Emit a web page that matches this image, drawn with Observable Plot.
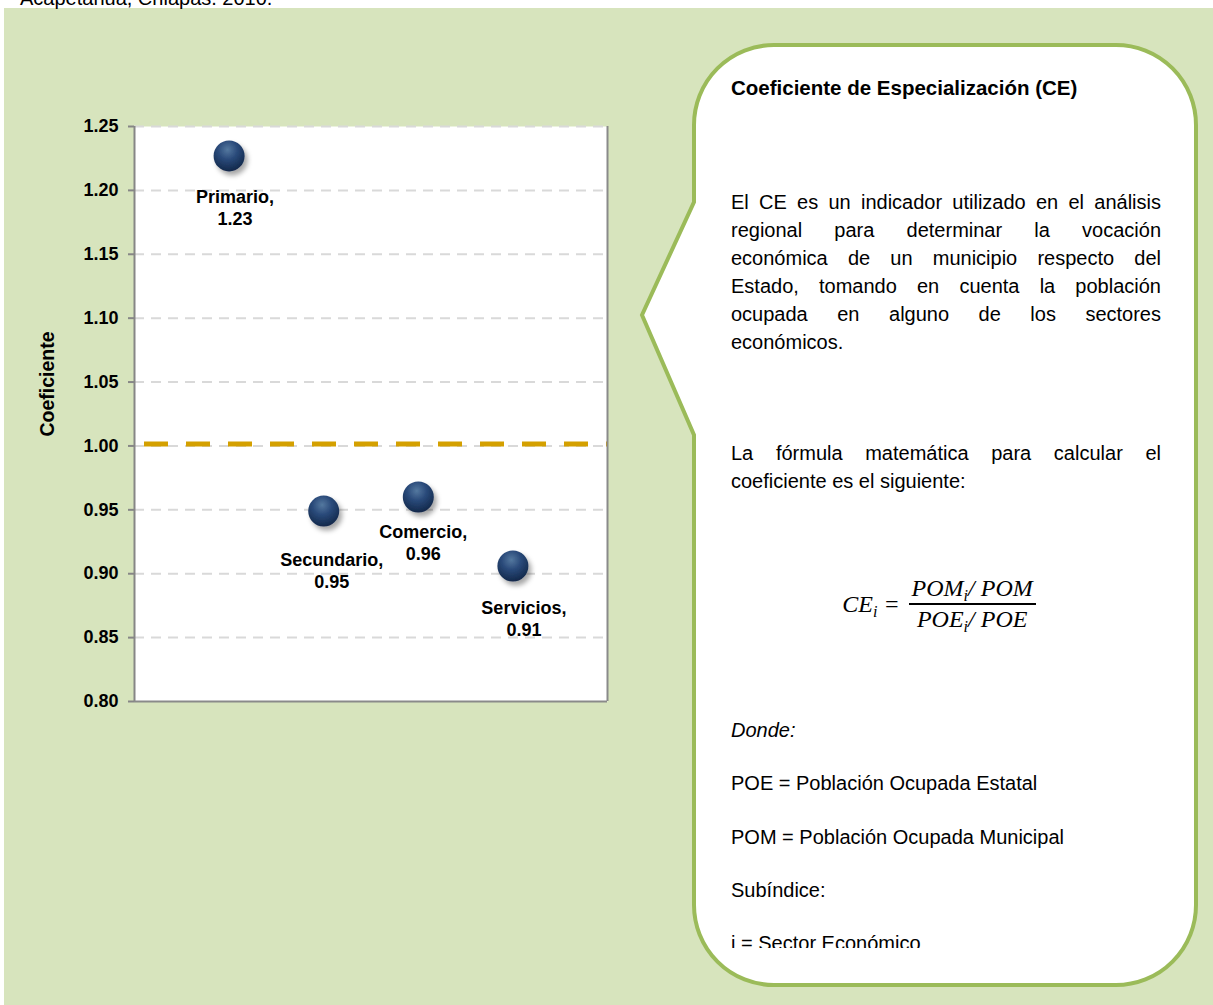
<!DOCTYPE html>
<html>
<head>
<meta charset="utf-8">
<script src="https://cdn.jsdelivr.net/npm/d3@7"></script>
<script src="https://cdn.jsdelivr.net/npm/@observablehq/plot@0.6"></script>
<style>
  html, body { margin: 0; padding: 0; background: #fff; }
  #page { position: relative; width: 1213px; height: 1005px; overflow: hidden; font-family: "Liberation Sans", Arial, sans-serif; color: #000; }
  #bg { position: absolute; left: 4px; top: 8px; right: 0; bottom: 0; background: #d7e4bd; }
  #heading { position: absolute; left: 20px; top: -12px; font-size: 20px; line-height: 20px; white-space: nowrap; }
  #chart { position: absolute; left: 0; top: 0; }
  #callout { position: absolute; left: 0; top: 0; }
  #textclip { position: absolute; left: 0; top: 0; width: 1213px; height: 948px; overflow: hidden; }
  .blk { position: absolute; left: 731px; width: 430px; font-size: 20px; line-height: 28px; }
  .jl { text-align: justify; text-align-last: justify; white-space: nowrap; }
  .jl.last { text-align-last: left; }
  .title { font-weight: bold; font-size: 20.5px; }
  .formula { position: absolute; left: 819px; top: 575px; width: 240px; display: flex; align-items: center; justify-content: center; font-family: "Liberation Serif", "DejaVu Serif", serif; font-style: italic; font-size: 24px; }
  .formula sub { font-size: 16px; vertical-align: -5px; line-height: 0; }
  .frac { display: inline-flex; flex-direction: column; align-items: center; margin-left: 9px; }
  .frac .num { padding: 0 3px 1px 3px; border-bottom: 2px solid #000; line-height: 27px; }
  .frac .den { padding: 1px 3px 0 3px; line-height: 27px; }
</style>
</head>
<body>
<div id="page">
  <div id="bg"></div>
  <div id="heading">Acapetahua, Chiapas. 2010.</div>
  <div id="chart"></div>
  <svg id="callout" width="1213" height="1005"></svg>
  <div id="textclip">
    <div class="blk title" style="top:74px">Coeficiente de Especialización (CE)</div>
    <div class="blk" style="top:188px">
      <div class="jl">El CE es un indicador utilizado en el análisis</div>
      <div class="jl">regional para determinar la vocación</div>
      <div class="jl">económica de un municipio respecto del</div>
      <div class="jl">Estado, tomando en cuenta la población</div>
      <div class="jl">ocupada en alguno de los sectores</div>
      <div class="jl last">económicos.</div>
    </div>
    <div class="blk" style="top:439px">
      <div class="jl">La fórmula matemática para calcular el</div>
      <div class="jl last">coeficiente es el siguiente:</div>
    </div>
    <div class="formula">
      <span>CE<sub>i</sub>&nbsp;=</span>
      <span class="frac"><span class="num">POM<sub>i</sub>/ POM</span><span class="den">POE<sub>i</sub>/ POE</span></span>
    </div>
    <div class="blk" style="top:716px; font-style:italic">Donde:</div>
    <div class="blk" style="top:769px">POE = Población Ocupada Estatal</div>
    <div class="blk" style="top:823px">POM = Población Ocupada Municipal</div>
    <div class="blk" style="top:876px">Subíndice:</div>
    <div class="blk" style="top:929px">i = Sector Económico</div>
  </div>
</div>
<script>
// ---- Data ----
const sectors = ["Primario", "Secundario", "Comercio", "Servicios"];
const coefficients = [1.227, 0.949, 0.96, 0.906];
const yTicks = [0.80, 0.85, 0.90, 0.95, 1.00, 1.05, 1.10, 1.15, 1.20, 1.25];
const referenceLine = [1.0];
const axisTitle = ["Coeficiente"];

// ---- Layout (label offsets in px) ----
const labelOffsets = {
  Primario: [6, 32],
  Secundario: [8, 40],
  Comercio: [5, 26],
  Servicios: [11, 33]
};

const data = sectors.map((s, i) => ({sector: s, pos: i + 1, value: coefficients[i]}));

const labelMarks = data.map(d => Plot.text([d], {
  x: "pos", y: "value",
  text: v => `${v.sector},\n${v.value.toFixed(2)}`,
  lineAnchor: "top", lineHeight: 1.2,
  dx: labelOffsets[d.sector][0], dy: labelOffsets[d.sector][1],
  fontSize: 18, fontWeight: "bold", fill: "#000"
}));

const chart = Plot.plot({
  width: 640, height: 760,
  marginLeft: 134, marginTop: 126, marginRight: 33, marginBottom: 59,
  style: {background: "transparent", fontFamily: "'Liberation Sans', Arial, sans-serif", fontSize: "18px", fontWeight: "bold", color: "#000", overflow: "visible"},
  x: {domain: [0, 5], axis: null},
  y: {domain: [0.8, 1.25], axis: null},
  marks: [
    Plot.frame({fill: "white", stroke: "none"}),
    Plot.ruleY(yTicks.filter(t => t > 0.8), {stroke: "#d9d9d9", strokeWidth: 2, strokeDasharray: "10,7"}),
    Plot.ruleY(referenceLine, {stroke: "#D4A000", strokeWidth: 5, strokeDasharray: "24,18", strokeDashoffset: 32, dy: -2}),
    Plot.ruleX([0], {stroke: "#868686", strokeWidth: 2}),
    Plot.ruleX([5], {stroke: "#8a8a8a", strokeWidth: 2}),
    Plot.ruleY([0.8], {stroke: "#8a8a8a", strokeWidth: 2}),
    Plot.axisY({ticks: yTicks, tickSize: 6, tickPadding: 10, stroke: "#868686", strokeWidth: 2, fill: "#000",
      tickFormat: d => d.toFixed(2), fontSize: 18, fontWeight: "bold", label: null}),
    Plot.text(axisTitle, {frameAnchor: "left", textAnchor: "middle", rotate: -90, dx: -87, dy: -30, fontSize: 19.5, fontWeight: "bold", fill: "#000"}),
    Plot.dot(data, {x: "pos", y: "value", r: 15.5, fill: "#1F3864", stroke: "none"}),
    ...labelMarks
  ]
});
document.getElementById("chart").appendChild(chart);

// Ball gradient + shadow
const svg = d3.select(chart);
const defs = svg.insert("defs", ":first-child");
const g = defs.append("radialGradient").attr("id", "ballGrad").attr("cx", "45%").attr("cy", "30%").attr("r", "70%");
g.append("stop").attr("offset", "0%").attr("stop-color", "#54789f");
g.append("stop").attr("offset", "45%").attr("stop-color", "#2a4a7a");
g.append("stop").attr("offset", "100%").attr("stop-color", "#12284a");
const f = defs.append("filter").attr("id", "ballShadow").attr("x", "-50%").attr("y", "-50%").attr("width", "200%").attr("height", "200%");
f.append("feDropShadow").attr("dx", 3).attr("dy", 4).attr("stdDeviation", 2.5).attr("flood-color", "#000").attr("flood-opacity", 0.35);
svg.selectAll('g[aria-label="dot"] circle').attr("fill", "url(#ballGrad)").attr("filter", "url(#ballShadow)");

// Callout shape (text box border)
const L = 694, T = 45, R = 1196, B = 985, rad = 80;
const path = [
  `M${L + rad},${T}`, `L${R - rad},${T}`, `A${rad},${rad} 0 0 1 ${R},${T + rad}`,
  `L${R},${B - rad}`, `A${rad},${rad} 0 0 1 ${R - rad},${B}`,
  `L${L + rad},${B}`, `A${rad},${rad} 0 0 1 ${L},${B - rad}`,
  `L${L},435`, `L642,315`, `L${L},202`, `L${L},${T + rad}`,
  `A${rad},${rad} 0 0 1 ${L + rad},${T}`, "Z"
].join(" ");
d3.select("#callout").append("path").attr("d", path)
  .attr("fill", "#fff").attr("stroke", "#9bbb59").attr("stroke-width", 4).attr("stroke-linejoin", "miter");
</script>
</body>
</html>
